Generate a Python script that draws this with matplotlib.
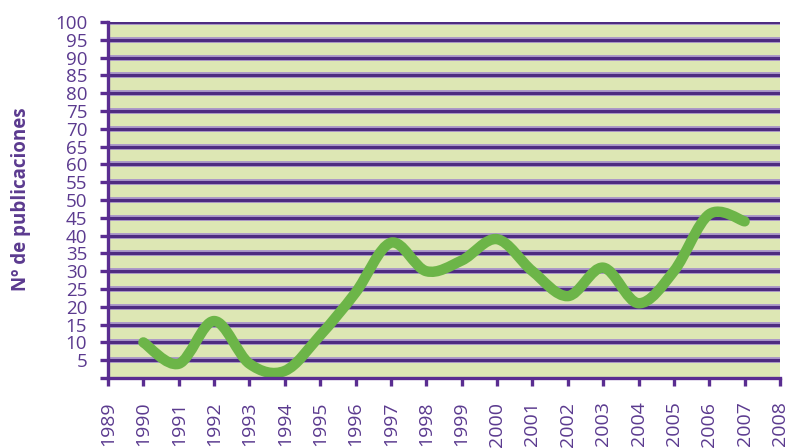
import numpy as np
import matplotlib
matplotlib.use("Agg")
import matplotlib.pyplot as plt
from matplotlib.path import Path
from matplotlib.patches import PathPatch

years = [1990, 1991, 1992, 1993, 1994, 1995, 1996, 1997, 1998,
         1999, 2000, 2001, 2002, 2003, 2004, 2005, 2006, 2007]
publicaciones = [10, 4, 16, 4, 2, 12, 24, 38, 30,
                 33, 39, 30, 23, 31, 21, 30, 46, 44]
x_ticks = list(range(1989, 2009))
y_ticks = list(range(0, 101, 5))

purple = '#5B3A8F'
plt.rcParams['font.family'] = ['Open Sans', 'DejaVu Sans']

fig = plt.figure(figsize=(7.9, 4.48), dpi=100)
ax = fig.add_axes([108 / 790, 70 / 448, 672 / 790, 356 / 448])
ax.set_facecolor('#DDE7B4')
ax.set_xlim(1989, 2008)
ax.set_ylim(0, 100)

# horizontal grid: light halo under a dark core
ax.hlines(y_ticks[1:], 1989, 2008, colors='#A995C8', lw=4.2, zorder=1)
ax.hlines(y_ticks[1:], 1989, 2008, colors='#4E2C80', lw=2.2, zorder=1)

# smoothed line (excel style bezier through the points)
pts = np.column_stack([years, publicaciones]).astype(float)
n = len(pts)
verts = [pts[0]]
codes = [Path.MOVETO]
for i in range(n - 1):
    p0 = pts[max(i - 1, 0)]
    p1 = pts[i]
    p2 = pts[i + 1]
    p3 = pts[min(i + 2, n - 1)]
    verts += [p1 + (p2 - p0) / 6, p2 - (p3 - p1) / 6, p2]
    codes += [Path.CURVE4] * 3
curve = PathPatch(Path(verts, codes), facecolor='none', edgecolor='#6CB548',
                  lw=7.5, capstyle='round', joinstyle='round', zorder=3)
ax.add_patch(curve)

for s in ['top', 'right']:
    ax.spines[s].set_visible(False)
for s in ['left', 'bottom']:
    ax.spines[s].set_color('#5A2D91')
    ax.spines[s].set_linewidth(2.4)
    ax.spines[s].set_zorder(4)

ax.set_xticks(x_ticks)
ax.set_yticks(y_ticks)
ax.set_yticklabels([''] + [str(v) for v in y_ticks[1:]])
ax.tick_params(axis='both', colors='#5A2D91', width=2.4, length=6,
               labelcolor=purple)
ax.tick_params(axis='y', pad=9, labelsize=13.5)
ax.tick_params(axis='x', pad=11, labelrotation=90, labelsize=14)

fig.text(0.026, 0.556, 'Nº de publicaciones', rotation=90, ha='center',
         va='center', color=purple, fontsize=13.5, fontweight='bold')

fig.savefig('out.png', dpi=100)
